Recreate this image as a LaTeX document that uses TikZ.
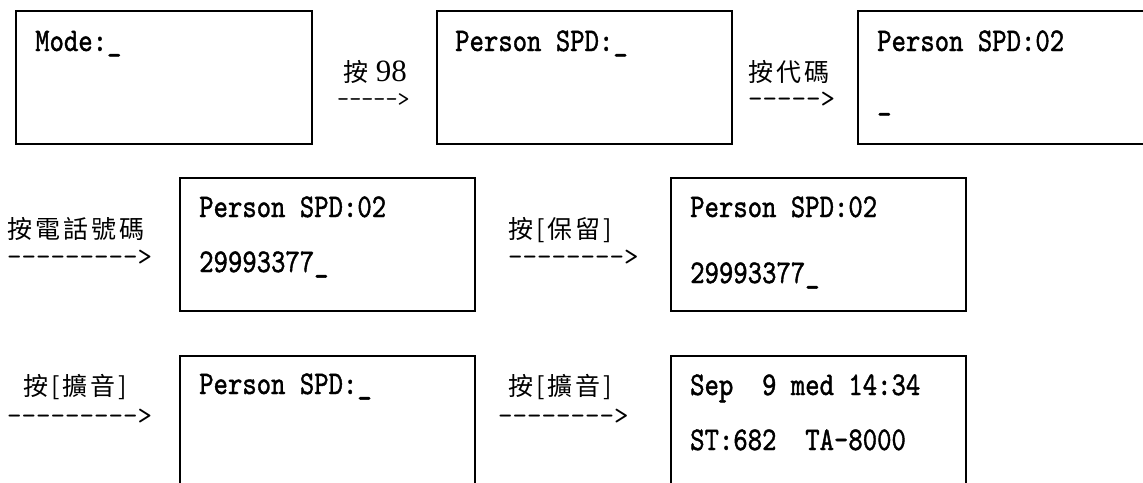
\documentclass[tikz,border=0pt]{standalone}
\usepackage{graphicx}
\usepackage{fontspec}
\usetikzlibrary{positioning}

\newfontfamily\lcdfont{lmmono10-regular}[Extension=.otf, FakeBold=1.4]
\newfontfamily\dashfont{lmmono10-regular}[Extension=.otf, Ligatures=TeXOff]
\newfontfamily\cjk{Noto Sans CJK TC}[LetterSpace=12]
\newfontfamily\numfont{Liberation Serif}
\newcommand\lcd[1]{\scalebox{0.83}[1]{#1}}

\begin{document}
\begin{tikzpicture}[x=1pt, y=-1pt,
    lcdbox/.style={draw, line width=1.5pt, inner sep=0pt, anchor=north west},
    lcdtext/.style={inner sep=0pt, anchor=base west, font=\lcdfont\fontsize{33}{40}\selectfont},
    keylabel/.style={inner sep=0pt, anchor=base west, font=\cjk\fontsize{25}{30}\selectfont},
    keyarrow/.style={inner sep=0pt, anchor=base west, font=\dashfont\fontsize{27.6}{30}\selectfont}]

\useasboundingbox (0,0) rectangle (1143,482);
\clip (0,0) rectangle (1143,482);

% first row
\node[lcdbox, minimum width=296pt, minimum height=133pt] (mode) at (15,10) {};
\node[lcdbox, minimum width=295pt, minimum height=133pt] (spd) at (436,10) {};
\node[lcdbox, minimum width=300pt, minimum height=133pt] (spdcode) at (857,10) {};

\node[lcdtext] (modetxt) at (35,51) {\lcd{Mode:\_}};
\node[lcdtext] (spdtxt) at (455,51) {\lcd{Person SPD:\_}};
\node[lcdtext] (spdcodetxt) at (877,51) {\lcd{Person SPD:02}};
\node[lcdtext] (spdcodecur) at (877,110) {\lcd{\_}};

\node[keylabel] (k98) at (343,81) {按{\numfont\fontsize{31}{34}\selectfont\ 98}};
\node[keyarrow, font=\dashfont\fontsize{23}{26}\selectfont] (a98) at (337,106) {----->};
\node[keylabel] (kcode) at (748,81) {按代碼};
\node[keyarrow] (acode) at (748,107) {----->};

% second row
\node[lcdbox, minimum width=295pt, minimum height=133pt] (phone) at (179,177) {};
\node[lcdbox, minimum width=295pt, minimum height=133pt] (hold) at (670,177) {};

\node[lcdtext] (phonetxt) at (199,217) {\lcd{Person SPD:02}};
\node[lcdtext] (phonenum) at (199,272) {\lcd{29993377\_}};
\node[lcdtext] (holdtxt) at (690,217) {\lcd{Person SPD:02}};
\node[lcdtext] (holdnum) at (690,283) {\lcd{29993377\_}};

\node[keylabel] (kphone) at (7,238) {按電話號碼};
\node[keyarrow] (aphone) at (7,265) {--------->};
\node[keylabel] (khold) at (508,238) {按[保留]};
\node[keyarrow] (ahold) at (508,265) {-------->};

% third row
\node[lcdbox, minimum width=295pt, minimum height=150pt] (spdagain) at (179,355) {};
\node[lcdbox, minimum width=295pt, minimum height=150pt] (idle) at (670,355) {};

\node[lcdtext] (spdagaintxt) at (199,394) {\lcd{Person SPD:\_}};
\node[lcdtext] (idledate) at (690,395) {\lcd{Sep~~9 med 14:34}};
\node[lcdtext] (idlest) at (690,450) {\lcd{ST:682~~TA-8000}};

\node[keylabel] (kspk) at (23,395) {按[擴音]};
\node[keyarrow] (aspk) at (7,424) {--------->};
\node[keylabel] (kspkb) at (508,395) {按[擴音]};
\node[keyarrow] (aspkb) at (498,424) {-------->};

\end{tikzpicture}
\end{document}
